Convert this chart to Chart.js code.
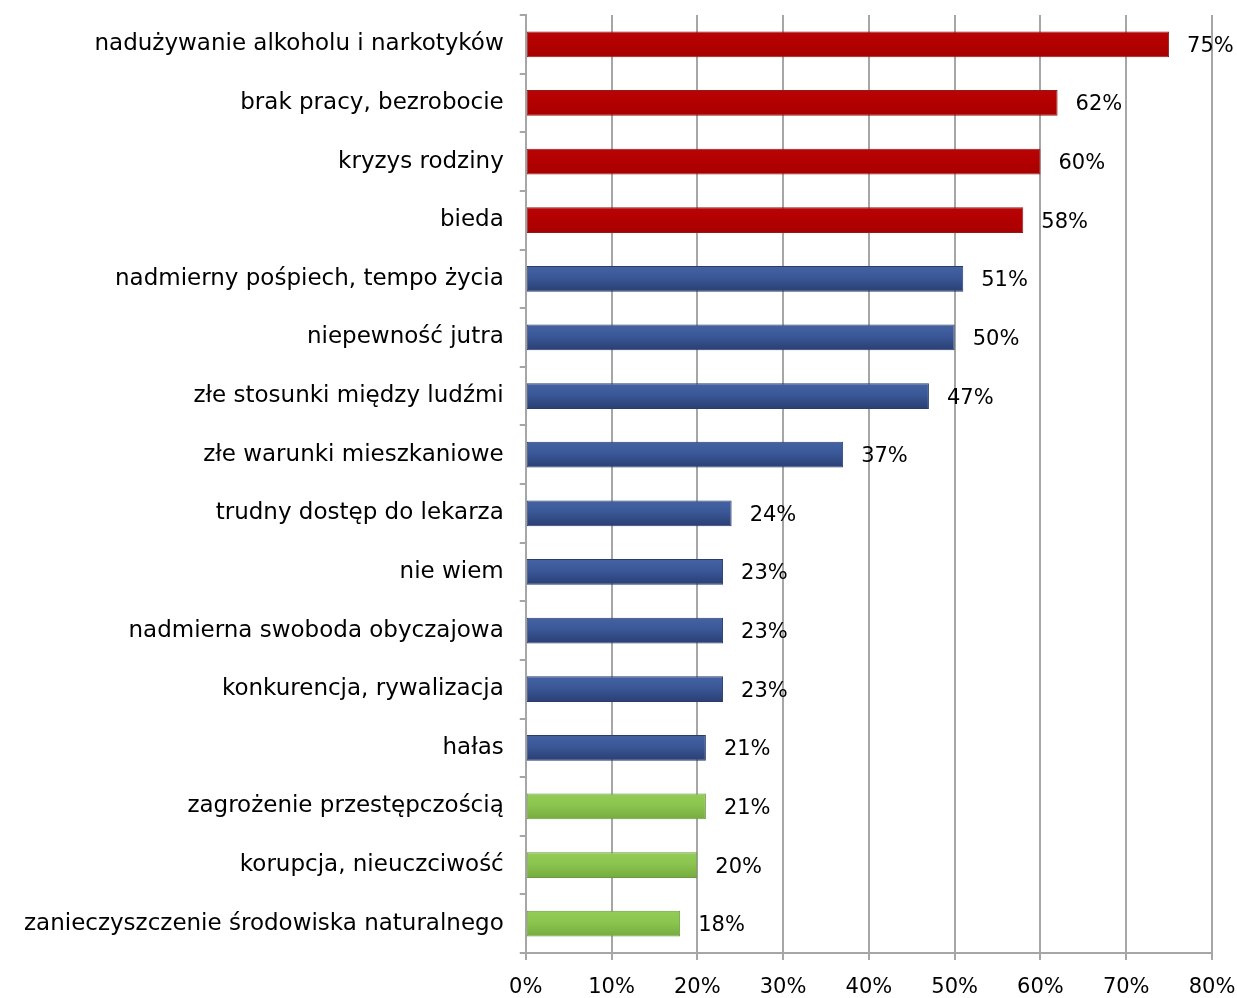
<!DOCTYPE html>
<html>
<head>
<meta charset="utf-8">
<script src="https://cdn.jsdelivr.net/npm/chart.js@4/dist/chart.umd.min.js"></script>
<style>
  html, body { margin: 0; padding: 0; background: #fff; }
  #wrap { width: 1237px; height: 998px; }
</style>
</head>
<body>
<div id="wrap"><canvas id="chart"></canvas></div>
<script>
const categories = [
  "nadużywanie alkoholu i narkotyków",
  "brak pracy, bezrobocie",
  "kryzys rodziny",
  "bieda",
  "nadmierny pośpiech, tempo życia",
  "niepewność jutra",
  "złe stosunki między ludźmi",
  "złe warunki mieszkaniowe",
  "trudny dostęp do lekarza",
  "nie wiem",
  "nadmierna swoboda obyczajowa",
  "konkurencja, rywalizacja",
  "hałas",
  "zagrożenie przestępczością",
  "korupcja, nieuczciwość",
  "zanieczyszczenie środowiska naturalnego"
];
const values = [75, 62, 60, 58, 51, 50, 47, 37, 24, 23, 23, 23, 21, 21, 20, 18];
const groups = ["red", "red", "red", "red", "blue", "blue", "blue", "blue", "blue",
  "blue", "blue", "blue", "blue", "green", "green", "green"];
const xTicks = [0, 10, 20, 30, 40, 50, 60, 70, 80];

const FONT = "'DejaVu Sans', sans-serif";
const fills = { red: "#b40000", blue: "#35508f", green: "#8bc54f" };
const edges = { red: "#8c1c1c", blue: "#2a3c68", green: "#6a9a3c" };
const shades = {
  red: ["#b80404", "#b30000", "#a80000"],
  blue: ["#4563a3", "#3a5797", "#2a3f73"],
  green: ["#93cc58", "#8bc54f", "#76ab40"]
};

// vertical shading on each bar, like the original office-style bars
const barShade = {
  id: "barShade",
  beforeDatasetsDraw(chart) {
    const ctx = chart.ctx;
    chart.getDatasetMeta(0).data.forEach((bar, i) => {
      const s = shades[groups[i]];
      const top = bar.y - bar.height / 2;
      const g = ctx.createLinearGradient(0, top, 0, top + bar.height);
      g.addColorStop(0, s[0]);
      g.addColorStop(0.45, s[1]);
      g.addColorStop(1, s[2]);
      bar.options.backgroundColor = g;
    });
  }
};

// value labels to the right of each bar
const valueLabels = {
  id: "valueLabels",
  afterDatasetsDraw(chart) {
    const ctx = chart.ctx;
    const meta = chart.getDatasetMeta(0);
    ctx.save();
    ctx.font = "21px " + FONT;
    ctx.fillStyle = "#000";
    ctx.textBaseline = "middle";
    ctx.textAlign = "left";
    meta.data.forEach((bar, i) => {
      ctx.fillText(values[i] + "%", bar.x + 18, bar.y + 2);
    });
    ctx.restore();
  }
};

new Chart(document.getElementById("chart"), {
  type: "bar",
  data: {
    labels: categories,
    datasets: [{
      data: values,
      backgroundColor: groups.map(g => fills[g]),
      borderColor: groups.map(g => edges[g]),
      borderWidth: 1,
      borderSkipped: false,
      categoryPercentage: 0.88,
      barPercentage: 0.5
    }]
  },
  plugins: [barShade, valueLabels],
  options: {
    indexAxis: "y",
    responsive: true,
    maintainAspectRatio: false,
    animation: false,
    layout: { padding: { top: 15, right: 2, left: 8, bottom: 0 } },
    plugins: { legend: { display: false }, tooltip: { enabled: false } },
    scales: {
      x: {
        min: 0,
        max: 80,
        afterBuildTicks(axis) { axis.ticks = xTicks.map(v => ({ value: v })); },
        afterFit(axis) { axis.height = 45; axis.paddingLeft = 0; axis.paddingRight = 25; },
        grid: { color: "#a6a6a6", lineWidth: 2, tickLength: 7, drawTicks: true },
        border: { color: "#a6a6a6", width: 2 },
        ticks: {
          color: "#000",
          font: { family: FONT, size: 21 },
          padding: 15,
          maxRotation: 0,
          callback: v => v + "%"
        }
      },
      y: {
        afterFit(axis) { axis.paddingTop = 0; axis.paddingBottom = 0; },
        grid: { drawOnChartArea: false, color: "#a6a6a6", lineWidth: 2, tickLength: 6, offset: true },
        border: { color: "#a6a6a6", width: 2 },
        ticks: {
          color: "#000",
          font: { family: FONT, size: 23 },
          padding: 16,
          autoSkip: false
        }
      }
    }
  }
});
</script>
</body>
</html>
